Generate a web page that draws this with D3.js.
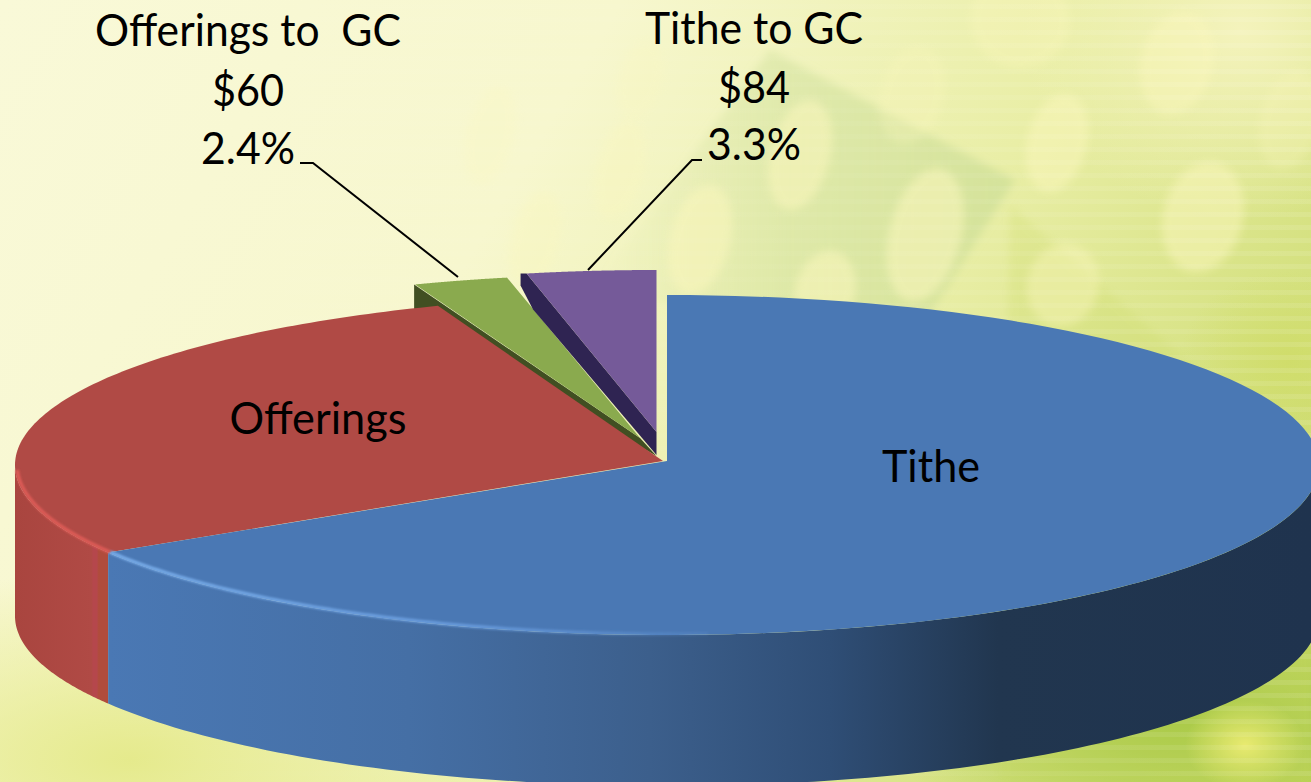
<!DOCTYPE html>
<html><head><meta charset="utf-8">
<script src="https://cdn.jsdelivr.net/npm/d3@7"></script>
<style>html,body{margin:0;padding:0;overflow:hidden;background:#f4f4c0}svg{display:block}text{font-family:Lato,"Noto Sans",sans-serif;fill:#000;white-space:pre}</style>
</head><body><script>
// ---- data ----
const categories = ["Tithe", "Offerings", "Offerings to GC", "Tithe to GC"];
const values = [1673, 703, 60, 84];
const percents = ["66.4%", "27.9%", "2.4%", "3.3%"];
const topColors = ["#4a78b4", "#b04a45", "#8aaa4e", "#755a99"];
const sideColors = ["#20344f", "#b04a45", "#414f22", "#2f2452"];

const W = 1311, H = 782;
const svg = d3.select("body").append("svg").attr("width", W).attr("height", H);
const defs = svg.append("defs");

function linear(id, stops, x1, y1, x2, y2) {
  const g = defs.append("linearGradient").attr("id", id).attr("gradientUnits", "userSpaceOnUse")
    .attr("x1", x1).attr("y1", y1).attr("x2", x2).attr("y2", y2);
  stops.forEach(s => g.append("stop").attr("offset", s[0]).attr("stop-color", s[1]).attr("stop-opacity", s[2] === undefined ? 1 : s[2]));
}
function radial(id, color, op) {
  const g = defs.append("radialGradient").attr("id", id);
  g.append("stop").attr("offset", 0).attr("stop-color", color).attr("stop-opacity", op);
  g.append("stop").attr("offset", 1).attr("stop-color", color).attr("stop-opacity", 0);
}
function blur(id, s) {
  defs.append("filter").attr("id", id).attr("x", "-30%").attr("y", "-30%").attr("width", "160%").attr("height", "160%")
    .append("feGaussianBlur").attr("stdDeviation", s);
}
blur("b5", 6); blur("b4", 4); blur("b1", 1.2);

// ---- background ----
linear("bg", [[0, "#f9f9d8"], [0.35, "#f7f7ce"], [0.62, "#e9eea6"], [1, "#c4d660"]], 0, 0, W, H);
svg.append("rect").attr("width", W).attr("height", H).attr("fill", "url(#bg)");
radial("rYellow", "#f4f3bc", 1); radial("rGreen", "#a5c845", 1); radial("rGreen2", "#cfdc66", .8); radial("rBar", "#f2f076", 1); radial("rLow", "#e5ea8c", 1);
const washes = [
  [130, 760, 420, 190, "rLow"], [1180, 720, 300, 130, "rGreen"], [1245, 745, 60, 45, "rBar"],
  [1240, 30, 220, 190, "rYellow"], [1290, 360, 110, 90, "rGreen2"]
];
svg.selectAll(".wash").data(washes).join("ellipse").attr("class", "wash")
  .attr("cx", d => d[0]).attr("cy", d => d[1]).attr("rx", d => d[2]).attr("ry", d => d[3]).attr("fill", d => `url(#${d[4]})`);
linear("bandFade", [[0, "#cfe09c", 0], [.45, "#cfe09c", .5], [1, "#c8dc94", .62]], 600, 0, 1015, 0);
const bandA = [[770, 50], [1015, 180], [885, 385], [600, 280]];
const bandB = [[1010, 205], [1311, 470], [1311, 782], [1000, 782]];
svg.append("polygon").attr("points", bandA.join(" ")).attr("fill", "url(#bandFade)").attr("filter", "url(#b4)");
svg.append("polygon").attr("points", bandB.join(" ")).attr("fill", "#c4d65a").attr("opacity", .2).attr("filter", "url(#b4)");
const spots = [
  [700, 240, 30, 56, .55], [800, 155, 30, 56, .55], [925, 235, 36, 68, .55], [825, 292, 30, 42, .55], [912, 95, 32, 50, .28],
  [1057, 143, 30, 50, .5], [1177, 63, 36, 52, .45], [1203, 217, 40, 56, .5], [1063, 285, 36, 42, .42], [1020, 20, 50, 48, .35],
  [620, 170, 24, 50, .3], [535, 240, 24, 50, .3], [490, 135, 24, 50, .2], [640, 80, 22, 40, .2], [1290, 120, 30, 50, .25]
];
svg.selectAll(".spot").data(spots).join("ellipse").attr("class", "spot")
  .attr("rx", d => d[2]).attr("ry", d => d[3]).attr("fill", "#fbf7bc").attr("opacity", d => d[4])
  .attr("transform", d => `translate(${d[0]},${d[1]}) rotate(14)`).attr("filter", "url(#b4)");
linear("stripe", [[0, "#fff", 0], [.6, "#fff", .03], [1, "#fff", .1]], 0, 0, W, 0);
svg.selectAll(".stripe").data(d3.range(4, H, 13)).join("rect").attr("class", "stripe")
  .attr("x", 0).attr("y", d => d).attr("width", W).attr("height", 5).attr("fill", "url(#stripe)");

// ---- pie geometry ----
const pie = d3.pie().sort(null).value(d => d);
const arcs = pie(values);
const main = { cx: 667, cy: 465, rx: 652, ry: 170 };
const depth = 151;
const rimPoint = (g, a) => [g.cx + g.rx * Math.sin(a), g.cy - g.ry * Math.cos(a)];
const rim = (g, a0, a1) => d3.range(0, 121).map(i => rimPoint(g, a0 + (a1 - a0) * i / 120));
const line = d3.line();
const down = (pts, d) => pts.map(p => [p[0], p[1] + d]);
const sector = (apex, g, a) => line([apex, ...rim(g, a.startAngle, a.endAngle)]) + "Z";
const sideWall = (g, a0, a1, d) => { const r = rim(g, a0, a1); return line([...r, ...down(r, d).reverse()]) + "Z"; };

linear("blueSide", [[0, "#4a78b4"], [.25, "#456fa5"], [.45, "#3c5f8c"], [.6, "#2f4e76"], [.74, "#21364f"], [1, "#1f334e"]], 108, 0, 1311, 0);
linear("redSide", [[0, "#a9453f"], [.82, "#b04a45"], [.84, "#b5474c"], [.88, "#b5474c"], [.9, "#b04c3c"], [1, "#b04c3c"]], 15, 0, 108, 0);

const [tithe, offer, offerGC, titheGC] = arcs;
const g = svg.append("g");

const pGeo = { cx: 656.5, cy: 432, rx: 625, ry: 162 };
const pApex = [pGeo.cx, pGeo.cy];

// exploded: Offerings to GC
const gGreen = { cx: 640, cy: 438, rx: 640, ry: 164 };
const gApex = [gGreen.cx, gGreen.cy];
const gCorner = rimPoint(gGreen, offerGC.startAngle);
g.append("path").attr("fill", sideColors[2])
  .attr("d", line([[gCorner[0] - 1, gCorner[1]], gApex, [pApex[0], pApex[1] + 24], [gCorner[0] - 1, gCorner[1] + 32]]) + "Z");
g.append("path").attr("fill", topColors[2]).attr("d", sector(gApex, gGreen, offerGC));

// exploded: Tithe to GC
const pCorner = rimPoint(pGeo, titheGC.startAngle);
const pInner = [pCorner[0] + (pApex[0] - pCorner[0]) * .05, pCorner[1] + (pApex[1] - pCorner[1]) * .05 + 28];
g.append("path").attr("fill", sideColors[3])
  .attr("d", line([[pCorner[0] - 6, pCorner[1]], pCorner, pApex, [pApex[0], pApex[1] + 23], pInner, [pCorner[0] - 6, pCorner[1] + 12]]) + "Z");
g.append("path").attr("fill", topColors[3]).attr("d", sector(pApex, pGeo, titheGC));

// main walls
g.append("path").attr("fill", "url(#redSide)").attr("d", sideWall(main, tithe.endAngle, 1.5 * Math.PI, depth));
g.append("path").attr("fill", "url(#blueSide)").attr("d", sideWall(main, Math.PI / 2, tithe.endAngle, depth));

// main tops
g.append("path").attr("fill", topColors[1]).attr("d", sector([663, 461], main, offer));
g.append("path").attr("fill", topColors[0]).attr("d", sector([667, 461], main, tithe));

// rim highlights
const inner = { cx: main.cx, cy: main.cy, rx: main.rx - 2, ry: main.ry - 1 };
linear("blueHi", [[0, "#78ace8", 1], [.55, "#6ea2e4", .8], [1, "#6ea2e4", 0]], 108, 0, 760, 0);
g.append("path").attr("fill", "none").attr("stroke", "url(#blueHi)").attr("stroke-width", 3.5).attr("filter", "url(#b1)")
  .attr("d", line(rim(inner, Math.PI * .98, tithe.endAngle)));
g.append("path").attr("fill", "none").attr("stroke", "#dd5b57").attr("stroke-width", 3.5).attr("filter", "url(#b1)")
  .attr("d", line(rim(inner, tithe.endAngle, 1.5 * Math.PI - 0.03)));

// leader lines
const leaders = [
  [[300, 163], [313, 163], [458, 277]],
  [[702, 160], [692, 160], [588, 270]]
];
g.selectAll(".leader").data(leaders).join("path").attr("class", "leader").attr("fill", "none")
  .attr("stroke", "#000").attr("stroke-width", 2).attr("d", d => line(d));

// labels
const labelTexts = [
  ["Offerings to  GC", 248, 46, 306], ["$60", 248, 106, 72], ["2.4%", 248, 164, 94],
  ["Tithe to GC", 754, 44, 218], ["$84", 754, 103, 72], ["3.3%", 754, 160, 94],
  ["Offerings", 318, 434, 177], ["Tithe", 931, 482, 98]
];
svg.selectAll(".lab").data(labelTexts).join("text").attr("class", "lab")
  .attr("x", d => d[1]).attr("y", d => d[2]).attr("text-anchor", "middle")
  .attr("font-size", 44).attr("textLength", d => d[3]).attr("lengthAdjust", "spacingAndGlyphs")
  .text(d => d[0]);
</script></body></html>
